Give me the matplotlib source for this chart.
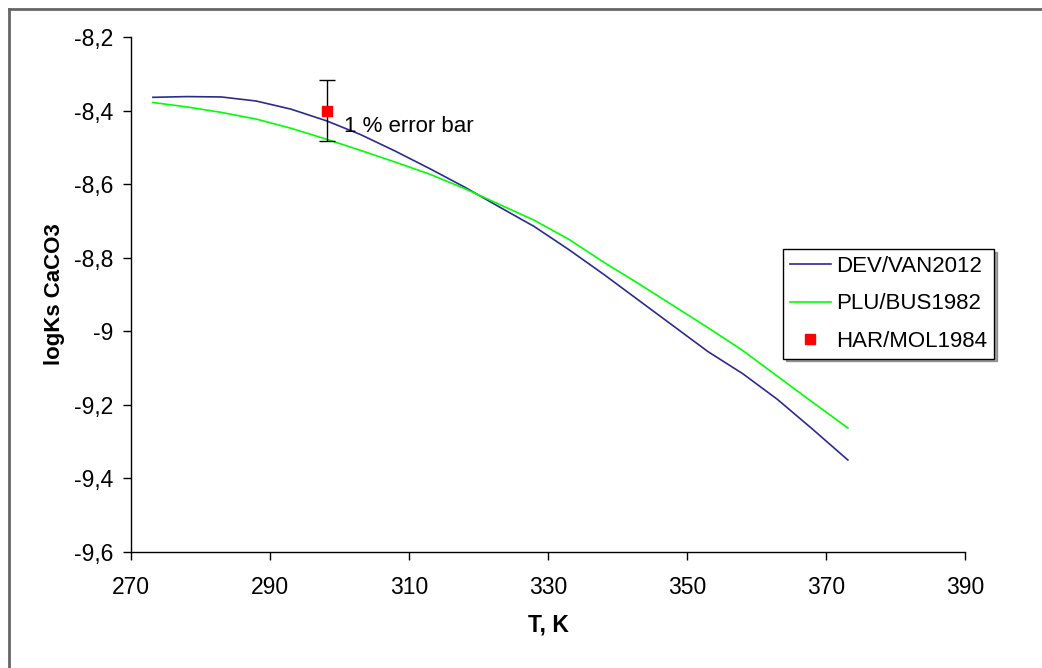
import matplotlib
matplotlib.use("Agg")
import matplotlib.pyplot as plt
from matplotlib.ticker import FuncFormatter
from matplotlib.lines import Line2D

plt.rcParams['font.family'] = ['Liberation Sans', 'DejaVu Sans']

# Temperature grid, K
temperature = [273.15, 278, 283, 288, 293, 298.15, 303, 308, 313, 318, 323,
               328, 333, 338, 343, 348, 353, 358, 363, 368, 373.15]

# logKs of calcite, two model correlations
logk_dev_van2012 = [-8.364, -8.362, -8.363, -8.374, -8.396, -8.428, -8.465,
                    -8.510, -8.558, -8.608, -8.662, -8.715, -8.778, -8.845,
                    -8.915, -8.985, -9.055, -9.115, -9.185, -9.265, -9.350]
logk_plu_bus1982 = [-8.378, -8.390, -8.405, -8.423, -8.448, -8.478, -8.508,
                    -8.540, -8.573, -8.612, -8.655, -8.698, -8.750, -8.812,
                    -8.870, -8.930, -8.990, -9.052, -9.122, -9.192, -9.263]

# Experimental point with 1 % error
exp_T = [298.15]
exp_logk = [-8.40]
exp_err = [0.084]

x_ticks = [270, 290, 310, 330, 350, 370, 390]
y_ticks = [-9.6, -9.4, -9.2, -9.0, -8.8, -8.6, -8.4, -8.2]

BLUE = '#2b2b8f'
GREEN = '#00ff00'
RED = '#ff0000'

fig = plt.figure(figsize=(10.42, 6.68), dpi=100)
ax = fig.add_axes([131 / 1042, 116 / 668, 834 / 1042, 515 / 668])

ax.plot(temperature, logk_dev_van2012, color=BLUE, lw=1.2)
ax.plot(temperature, logk_plu_bus1982, color=GREEN, lw=1.2)
ax.errorbar(exp_T, exp_logk, yerr=exp_err, fmt='none', ecolor='black',
            elinewidth=1.0, capsize=6, capthick=1.0, zorder=3)
ax.plot(exp_T, exp_logk, 's', color=RED, ms=6.5, mec=RED, zorder=4)
ax.text(300.6, -8.442, '1 % error bar', fontsize=16, va='center', ha='left')

ax.set_xlim(270, 390)
ax.set_ylim(-9.6, -8.2)
ax.set_xticks(x_ticks)
ax.set_yticks(y_ticks)


def comma_fmt(v, _pos):
    s = f'{v:.1f}'.rstrip('0').rstrip('.')
    return s.replace('.', ',')


ax.yaxis.set_major_formatter(FuncFormatter(comma_fmt))
ax.tick_params(axis='both', direction='out', length=6, width=1.0,
               labelsize=16.5, colors='black')
ax.tick_params(axis='y', pad=7)
ax.tick_params(axis='x', pad=11)
for side in ('top', 'right'):
    ax.spines[side].set_visible(False)
for side in ('left', 'bottom'):
    ax.spines[side].set_linewidth(1.0)
    ax.spines[side].set_color('black')

ax.set_xlabel('T, K', fontsize=16.5, fontweight='bold', labelpad=11)
ax.set_ylabel('logKs CaCO3', fontsize=16, fontweight='bold', labelpad=6)

handles = [
    Line2D([], [], color=BLUE, lw=1.2),
    Line2D([], [], color=GREEN, lw=1.2),
    Line2D([], [], ls='none', marker='s', color=RED, ms=6.5),
]
leg = ax.legend(handles, ['DEV/VAN2012', 'PLU/BUS1982', 'HAR/MOL1984'],
                loc='upper left', bbox_to_anchor=(783 / 1042, 419 / 668),
                bbox_transform=fig.transFigure, fontsize=16,
                frameon=True, fancybox=False, shadow=True,
                handlelength=1.85, handletextpad=0.25, labelspacing=0.75,
                borderpad=0.3, borderaxespad=0)
leg.get_frame().set_edgecolor('black')
leg.get_frame().set_linewidth(1.0)

# Outer chart frame
fig.add_artist(Line2D([8.5 / 1042, 8.5 / 1042], [0, 1 - 8.5 / 668],
                      transform=fig.transFigure, color='#666666', lw=2))
fig.add_artist(Line2D([8.5 / 1042, 1], [1 - 8.5 / 668, 1 - 8.5 / 668],
                      transform=fig.transFigure, color='#666666', lw=2))

fig.savefig('out.png', dpi=100)
